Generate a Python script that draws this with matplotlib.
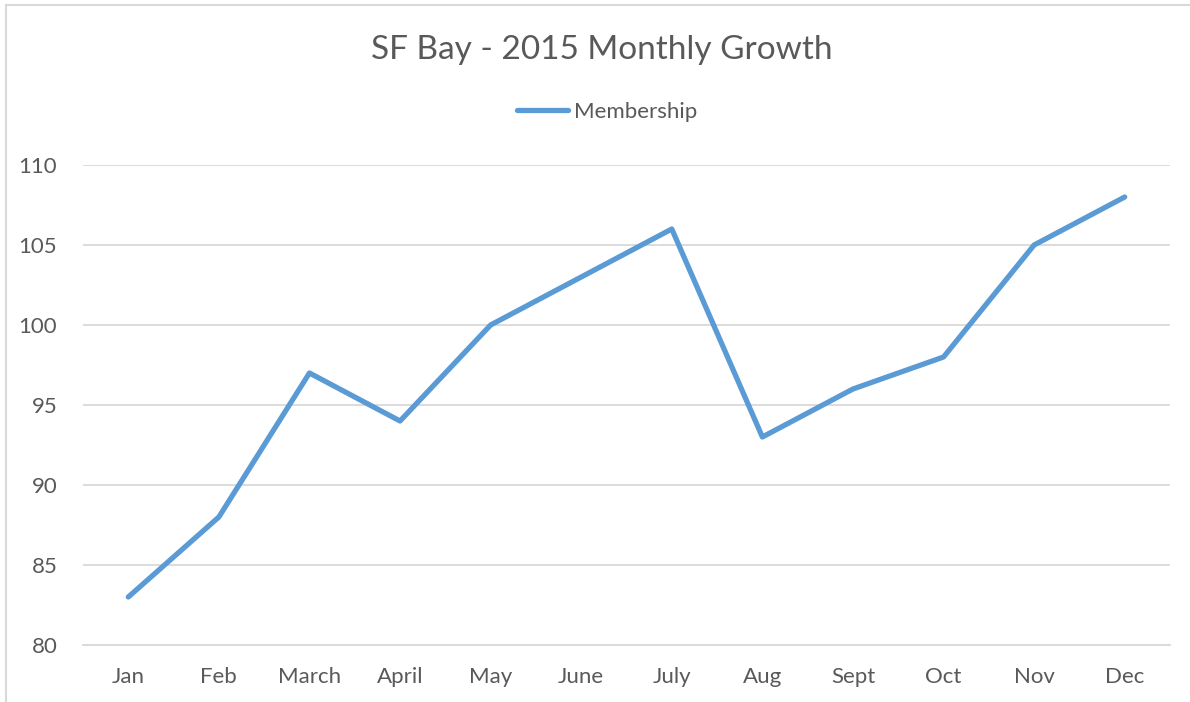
import matplotlib.pyplot as plt
from matplotlib.lines import Line2D

months = ['Jan', 'Feb', 'March', 'April', 'May', 'June', 'July', 'Aug', 'Sept', 'Oct', 'Nov', 'Dec']
membership = [83, 88, 97, 94, 100, 103, 106, 93, 96, 98, 105, 108]
yticks = [80, 85, 90, 95, 100, 105, 110]

plt.rcParams['font.family'] = ['Lato', 'DejaVu Sans']
text_col = '#595959'
grid_col = '#d9d9d9'

fig = plt.figure(figsize=(11.9, 7.02), dpi=100)
ax = fig.add_axes([83/1190, 1 - 645/702, (1170 - 83)/1190, (645 - 165)/702])

x = list(range(len(months)))
ax.plot(x, membership, color='#5b9bd5', lw=3.8, solid_capstyle='round',
        solid_joinstyle='round', label='Membership', zorder=3)

ax.set_xlim(-0.5, len(months) - 0.5)
ax.set_ylim(80, 110)
ax.set_yticks(yticks)
ax.set_xticks(x)
ax.set_xticklabels(months)
ax.grid(axis='y', color=grid_col, lw=1.3)
ax.tick_params(length=0, labelsize=16, colors=text_col)
ax.tick_params(axis='x', pad=16)
ax.tick_params(axis='y', pad=18.5)
for side in ['top', 'right', 'left']:
    ax.spines[side].set_visible(False)
ax.spines['bottom'].set_color(grid_col)
ax.spines['bottom'].set_linewidth(1.3)

fig.text(602/1190, 1 - 50/702, 'SF Bay - 2015 Monthly Growth', ha='center', va='center',
         fontsize=24, color=text_col)
fig.legend(handles=[Line2D([], [], color='#5b9bd5', lw=3.8, solid_capstyle='round')],
           labels=['Membership'], loc='center', bbox_to_anchor=(607/1190, 1 - 112/702),
           frameon=False, fontsize=16, labelcolor=text_col, handlelength=2.3,
           handletextpad=0.25)

# chart area border
fig.add_artist(Line2D([6/1190, 1], [1 - 5/702, 1 - 5/702], color=grid_col, lw=1.5))
fig.add_artist(Line2D([6/1190, 6/1190], [0, 1 - 5/702], color=grid_col, lw=1.5))

fig.savefig('out.png', dpi=100)
